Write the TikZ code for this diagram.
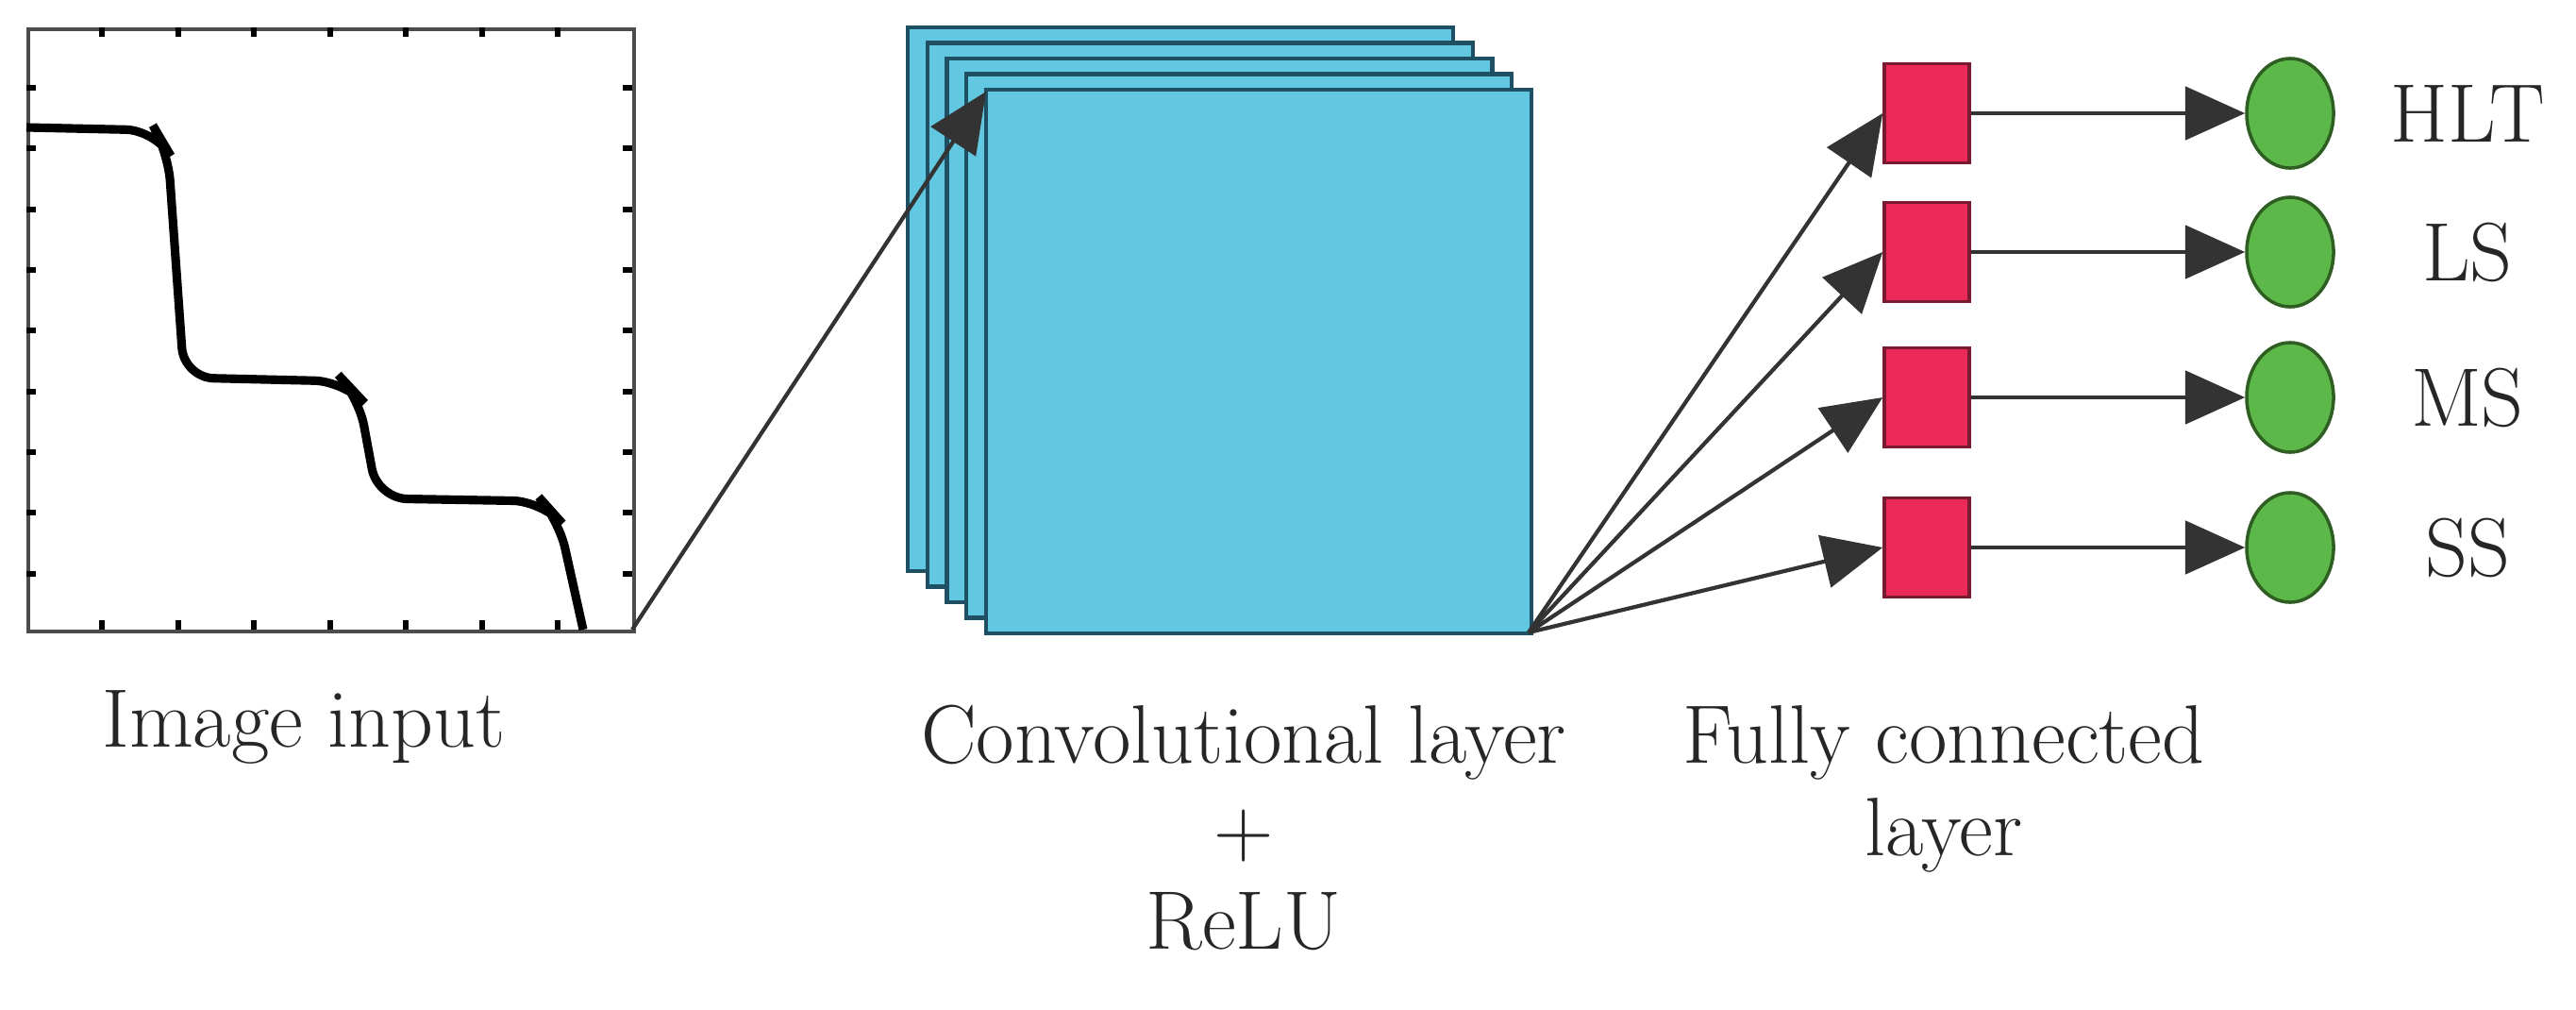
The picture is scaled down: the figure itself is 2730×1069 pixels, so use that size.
\documentclass[tikz,border=0pt]{standalone}
\usetikzlibrary{arrows.meta,shapes.geometric}
\definecolor{cy}{HTML}{62C7E0}
\definecolor{cyd}{HTML}{1F4F63}
\definecolor{rd}{HTML}{EB2A5A}
\definecolor{rdd}{HTML}{7A1A30}
\definecolor{gr}{HTML}{5CB848}
\definecolor{grd}{HTML}{2E5E22}
\definecolor{ln}{HTML}{333333}
\begin{document}
\begin{tikzpicture}[x=0.01cm,y=-0.01cm,
  lay/.style={draw=cyd,fill=cy,line width=1.2pt},
  sq/.style={draw=rdd,fill=rd,line width=1pt,minimum width=0.9cm,minimum height=1.05cm,inner sep=0pt},
  ci/.style={draw=grd,fill=gr,line width=1pt,ellipse,minimum width=0.92cm,minimum height=1.16cm,inner sep=0pt},
  arr/.style={draw=ln,line width=1.2pt,-{Triangle[length=18pt,width=16pt]}},
  lab/.style={font=\fontsize{25}{30}\selectfont,text=black!85}]
\useasboundingbox (0,0) rectangle (2730,1069);
% plot
\node[draw=black!70,line width=1pt,minimum width=6.42cm,minimum height=6.38cm,inner sep=0pt,anchor=north west] (plot) at (28,29) {};
\foreach \x in {108,189,269,350,430,511,591}{
  \draw[line width=1.5pt] (\x,29) -- (\x,39);
  \draw[line width=1.5pt] (\x,667) -- (\x,657);}
\foreach \y in {93,157,222,286,350,415,479,543,608}{
  \draw[line width=1.5pt] (28,\y) -- (38,\y);
  \draw[line width=1.5pt] (670,\y) -- (660,\y);}
\draw[line width=2.6pt,rounded corners=9] (28,135) -- (165,138) -- (178,160) -- (195,400) -- (365,404) -- (380,420) -- (400,528) -- (575,531) -- (592,550) -- (618,667);
\coordinate (pc) at (670,667);
% stack
\foreach \i in {0,...,4}{
  \draw[lay] ({962+20.7*\i},{29+16.5*\i}) rectangle ++(578,576);}
\coordinate (stk) at (1045,97);
\coordinate (stkbr) at (1620,670);
\draw[arr] (pc) -- (stk);
% fc
\foreach \y/\n in {120/a,267/b,421/c,580/d}{
  \node[sq] (s\n) at (2042,\y) {};
  \node[ci] (c\n) at (2427,\y) {};
  \draw[arr] (s\n) -- (c\n);
  \draw[arr] (stkbr) -- (s\n.west);}
\node[lab] at (2615,120) {HLT};
\node[lab] at (2615,267) {LS};
\node[lab] at (2615,421) {MS};
\node[lab] at (2615,580) {SS};
\node[lab] at (322,770) {Image input};
\node[lab,align=center,anchor=north] at (1318,735) {Convolutional layer\\[-2pt]+\\[-2pt]ReLU};
\node[lab,align=center,anchor=north] at (2060,735) {Fully connected\\[-2pt]layer};
\end{tikzpicture}
\end{document}
